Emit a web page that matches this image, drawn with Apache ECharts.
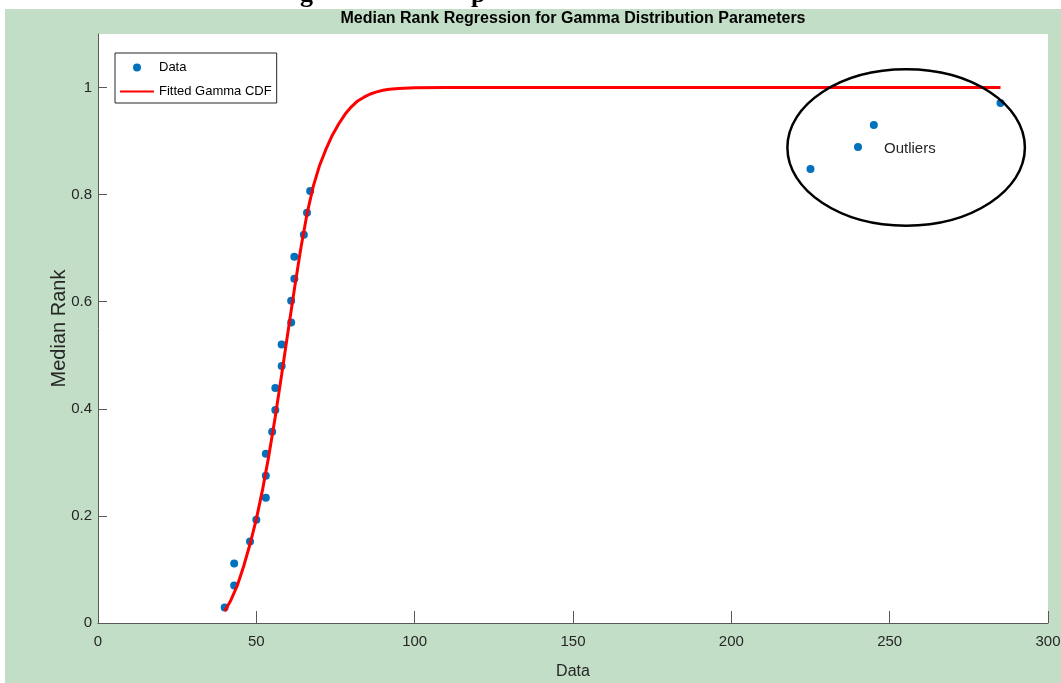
<!DOCTYPE html>
<html>
<head>
<meta charset="utf-8">
<script src="https://cdn.jsdelivr.net/npm/echarts@6/dist/echarts.min.js"></script>
<style>
  html, body { margin: 0; padding: 0; background: #fff; }
  #chart { width: 1061px; height: 683px; }
</style>
</head>
<body>
<div id="chart"></div>
<script>
const SANS = "'Liberation Sans', Arial, sans-serif";

// observed data and their median ranks
const dataX = [40, 43, 43, 48, 50, 53, 53, 53, 55, 56, 56, 58, 58, 61, 61, 62, 62, 65, 66, 67, 225, 240, 245, 285];
const rankY = [0.029, 0.070, 0.111, 0.152, 0.193, 0.234, 0.275, 0.316, 0.357, 0.398, 0.439, 0.480,
  0.520, 0.561, 0.602, 0.643, 0.684, 0.725, 0.766, 0.807, 0.848, 0.889, 0.930, 0.971];

// fitted gamma cdf
const fitX = [40, 42, 44, 46, 48, 50, 52, 54, 56, 58, 60, 62, 64, 66, 68, 70, 72, 74, 76, 78, 80,
  82, 84, 86, 88, 90, 92, 95, 100, 110, 150, 200, 250, 285];
const fitY = [0.022, 0.043, 0.070, 0.106, 0.147, 0.194, 0.250, 0.314, 0.386, 0.464, 0.544, 0.623,
  0.698, 0.764, 0.816, 0.855, 0.885, 0.911, 0.932, 0.950, 0.964, 0.975, 0.982, 0.988, 0.992, 0.995,
  0.997, 0.998, 0.9995, 1, 1, 1, 1, 1];

// annotation, in data units
const outlierBox = { cx: 255.2, cy: 0.888, rx: 37.5, ry: 0.146 };
const outlierLabel = { text: 'Outliers', x: 248.2, y: 0.886 };

const chart = echarts.init(document.getElementById('chart'));

chart.setOption({
  animation: false,
  backgroundColor: '#c3dec7',
  title: {
    text: 'Median Rank Regression for Gamma Distribution Parameters',
    left: 573,
    top: 11,
    padding: 0,
    textAlign: 'center',
    textStyle: { fontFamily: SANS, fontSize: 16, fontWeight: 'bold', color: '#000' }
  },
  legend: {
    orient: 'vertical',
    left: 115,
    top: 53,
    padding: [8, 5, 5, 4],
    itemGap: 11,
    itemWidth: 34,
    itemHeight: 8,
    backgroundColor: '#fff',
    borderColor: '#262626',
    borderWidth: 1,
    textStyle: { fontFamily: SANS, fontSize: 13, color: '#000' },
    data: [
      { name: 'Data', icon: 'circle' },
      { name: 'Fitted Gamma CDF', itemStyle: { opacity: 0 } }
    ]
  },
  grid: {
    left: 98, right: 13, top: 34, bottom: 60,
    outerBoundsMode: 'none',
    containLabel: false,
    show: true, backgroundColor: '#fff', borderWidth: 0
  },
  xAxis: {
    type: 'value',
    min: 0, max: 300, interval: 50,
    name: 'Data',
    nameLocation: 'middle',
    nameGap: 41,
    nameMoveOverlap: false,
    nameTextStyle: { fontFamily: SANS, fontSize: 16, color: '#262626' },
    axisLine: { show: true, lineStyle: { color: '#595959' } },
    axisTick: { show: true, inside: true, length: 12, lineStyle: { color: '#595959' } },
    axisLabel: { fontFamily: SANS, fontSize: 15, color: '#262626', margin: 11 },
    splitLine: { show: false }
  },
  yAxis: {
    type: 'value',
    min: 0, max: 1.1, interval: 0.2,
    name: 'Median Rank',
    nameLocation: 'middle',
    nameGap: 29,
    nameMoveOverlap: false,
    nameTextStyle: { fontFamily: SANS, fontSize: 20, color: '#262626' },
    axisLine: { show: true, lineStyle: { color: '#595959' } },
    axisTick: { show: true, inside: true, length: 9, lineStyle: { color: '#595959' } },
    axisLabel: { fontFamily: SANS, fontSize: 15, color: '#262626', margin: 6, showMaxLabel: false },
    splitLine: { show: false }
  },
  series: [
    {
      name: 'Data',
      type: 'scatter',
      symbolSize: 8,
      itemStyle: { color: '#0072BD', opacity: 1 },
      data: dataX.map((x, i) => [x, rankY[i]])
    },
    {
      name: 'Fitted Gamma CDF',
      type: 'line',
      symbol: 'none',
      smooth: false,
      itemStyle: { color: '#ff0000' },
      lineStyle: { color: '#ff0000', width: 3 },
      data: fitX.map((x, i) => [x, fitY[i]])
    }
  ]
});

// ellipse and label placed through the axes
const c = chart.convertToPixel({ gridIndex: 0 }, [outlierBox.cx, outlierBox.cy]);
const e = chart.convertToPixel({ gridIndex: 0 }, [outlierBox.cx + outlierBox.rx, outlierBox.cy + outlierBox.ry]);
const t = chart.convertToPixel({ gridIndex: 0 }, [outlierLabel.x, outlierLabel.y]);

chart.setOption({
  graphic: [
    { type: 'rect', z: 50, shape: { x: 0, y: 0, width: 1061, height: 9 }, style: { fill: '#fff' } },
    { type: 'rect', z: 50, shape: { x: 0, y: 0, width: 5, height: 683 }, style: { fill: '#fff' } },
    { type: 'text', z: 51, style: { text: 'g', x: 300, y: 8, verticalAlign: 'bottom', font: 'bold 26px "Liberation Serif", serif', fill: '#000' } },
    { type: 'text', z: 51, style: { text: 'p', x: 471, y: 8, verticalAlign: 'bottom', font: 'bold 26px "Liberation Serif", serif', fill: '#000' } },
    {
      type: 'ellipse', z: 100,
      shape: { cx: c[0], cy: c[1], rx: e[0] - c[0], ry: c[1] - e[1] },
      style: { fill: 'none', stroke: '#000', lineWidth: 2.5 }
    },
    {
      type: 'text', z: 100,
      style: { text: outlierLabel.text, x: t[0], y: t[1], verticalAlign: 'middle', font: '15px ' + SANS, fill: '#262626' }
    }
  ]
});

window.addEventListener('resize', () => chart.resize());
</script>
</body>
</html>
